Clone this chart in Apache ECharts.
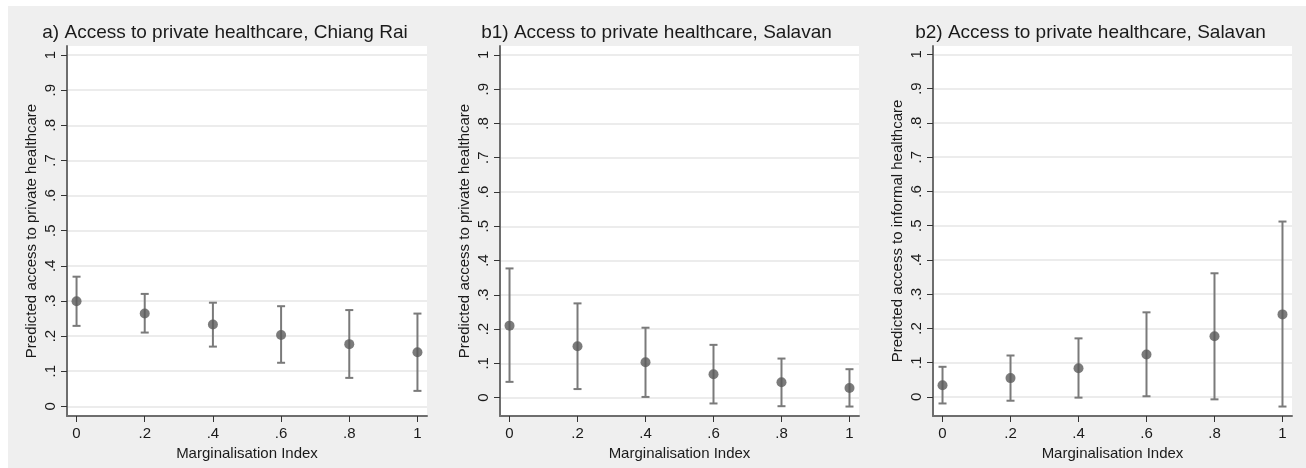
<!DOCTYPE html>
<html>
<head>
<meta charset="utf-8">
<script src="https://cdn.jsdelivr.net/npm/echarts@6/dist/echarts.min.js"></script>
<style>
  html, body { margin: 0; padding: 0; background: #ffffff; }
  #chart { width: 1306px; height: 468px; }
</style>
</head>
<body>
<div id="chart"></div>
<script>
// Panel headings and axis titles
const panelTitles = [
  'a) Access to private healthcare, Chiang Rai',
  'b1) Access to private healthcare, Salavan',
  'b2) Access to private healthcare, Salavan'
];
const yAxisTitles = [
  'Predicted access to private healthcare',
  'Predicted access to private healthcare',
  'Predicted access to informal healthcare'
];
const xAxisTitle = 'Marginalisation Index';

// Marginalisation index values at which predictions were made
const marginalisation = [0, 0.2, 0.4, 0.6, 0.8, 1];

// Tick positions
const xTicks = [0, 0.2, 0.4, 0.6, 0.8, 1];
const yTicks = [0, 0.1, 0.2, 0.3, 0.4, 0.5, 0.6, 0.7, 0.8, 0.9, 1];

// a) Chiang Rai, private healthcare: estimate with 95% CI
const chiangRaiEst  = [0.299, 0.264, 0.233, 0.203, 0.177, 0.154];
const chiangRaiLow  = [0.229, 0.210, 0.170, 0.124, 0.081, 0.044];
const chiangRaiHigh = [0.369, 0.320, 0.295, 0.285, 0.274, 0.264];

// b1) Salavan, private healthcare
const salavanPrivEst  = [0.210, 0.150, 0.103, 0.068, 0.045, 0.028];
const salavanPrivLow  = [0.046, 0.025, 0.002, -0.017, -0.025, -0.026];
const salavanPrivHigh = [0.377, 0.275, 0.204, 0.154, 0.114, 0.083];

// b2) Salavan, informal healthcare
const salavanInfEst  = [0.034, 0.055, 0.084, 0.124, 0.177, 0.241];
const salavanInfLow  = [-0.019, -0.011, -0.002, 0.002, -0.007, -0.028];
const salavanInfHigh = [0.088, 0.121, 0.171, 0.247, 0.361, 0.512];

const panels = [
  { est: chiangRaiEst,    low: chiangRaiLow,    high: chiangRaiHigh,    yMin: -0.0275, yMax: 1.0256 },
  { est: salavanPrivEst,  low: salavanPrivLow,  high: salavanPrivHigh,  yMin: -0.0536, yMax: 1.026 },
  { est: salavanInfEst,   low: salavanInfLow,   high: salavanInfHigh,   yMin: -0.0556, yMax: 1.0244 }
];

const gridLefts = [67, 500, 933];
const gridWidths = [360, 359, 359];
const titleCenters = [225, 656.5, 1090.5];

// Stata-style tick labels: drop the leading zero (".2", ".4", ...)
const fmt = v => {
  const r = Math.round(v * 10) / 10;
  if (r === 0) return '0';
  if (r === 1) return '1';
  return String(r).replace(/^0/, '');
};

const FONT = '"Liberation Sans", Arial, sans-serif';
const TEXT = '#1a1a1a';

const option = {
  backgroundColor: '#efefef',
  animation: false,
  graphic: [
    { type: 'rect', shape: { x: 0, y: 0, width: 1306, height: 6 }, style: { fill: '#ffffff' }, silent: true },
    { type: 'rect', shape: { x: 0, y: 0, width: 8, height: 468 }, style: { fill: '#ffffff' }, silent: true }
  ],
  title: panelTitles.map((t, i) => ({
    text: t,
    left: titleCenters[i],
    top: 23,
    padding: 0,
    textAlign: 'center',
    textStyle: { fontFamily: FONT, fontSize: 19, fontWeight: 'normal', color: TEXT }
  })),
  grid: panels.map((p, i) => ({
    left: gridLefts[i], top: 46, width: gridWidths[i], height: 370,
    show: true, backgroundColor: '#ffffff', borderWidth: 0
  })),
  xAxis: panels.map((p, i) => ({
    type: 'value', gridIndex: i, min: -0.028, max: 1.028,
    name: xAxisTitle, nameLocation: 'middle', nameGap: 23,
    nameTextStyle: { fontFamily: FONT, fontSize: 15, color: TEXT },
    axisLine: { show: true, onZero: false, lineStyle: { color: '#6e6e6e', width: 2 } },
    axisTick: { show: true, length: 6, customValues: xTicks, lineStyle: { color: '#333333', width: 1 } },
    axisLabel: { customValues: xTicks, formatter: fmt, margin: 10, fontFamily: FONT, fontSize: 15, color: TEXT },
    splitLine: { show: false }
  })),
  yAxis: panels.map((p, i) => ({
    type: 'value', gridIndex: i, min: p.yMin, max: p.yMax,
    name: yAxisTitles[i], nameLocation: 'middle', nameRotate: 90, nameGap: 28,
    nameTextStyle: { fontFamily: FONT, fontSize: 15, color: TEXT },
    axisLine: { show: true, onZero: false, lineStyle: { color: '#6e6e6e', width: 2 } },
    axisTick: { show: true, length: 6, customValues: yTicks, lineStyle: { color: '#333333', width: 1 } },
    axisLabel: { customValues: yTicks, formatter: fmt, rotate: 90, margin: 9, fontFamily: FONT, fontSize: 15, color: TEXT },
    splitLine: { show: true, lineStyle: { color: '#e6e6e6', width: 1.5 } }
  })),
  series: []
};

panels.forEach((p, i) => {
  option.series.push({
    type: 'custom',
    xAxisIndex: i, yAxisIndex: i,
    data: marginalisation.map((x, k) => [x, p.low[k], p.high[k]]),
    renderItem: (params, api) => {
      const x = api.value(0);
      const top = api.coord([x, api.value(2)]);
      const bot = api.coord([x, api.value(1)]);
      const cap = 4;
      const style = { stroke: '#7a7a7a', lineWidth: 2 };
      return {
        type: 'group',
        children: [
          { type: 'line', shape: { x1: top[0], y1: top[1], x2: bot[0], y2: bot[1] }, style },
          { type: 'line', shape: { x1: top[0] - cap, y1: top[1], x2: top[0] + cap, y2: top[1] }, style },
          { type: 'line', shape: { x1: bot[0] - cap, y1: bot[1], x2: bot[0] + cap, y2: bot[1] }, style }
        ]
      };
    },
    z: 2
  });
  option.series.push({
    type: 'scatter',
    xAxisIndex: i, yAxisIndex: i,
    data: marginalisation.map((x, k) => [x, p.est[k]]),
    symbol: 'circle', symbolSize: 10,
    itemStyle: { color: '#5a5a5a' },
    z: 3
  });
});

const chart = echarts.init(document.getElementById('chart'), null, { renderer: 'canvas' });
chart.setOption(option);
</script>
</body>
</html>
